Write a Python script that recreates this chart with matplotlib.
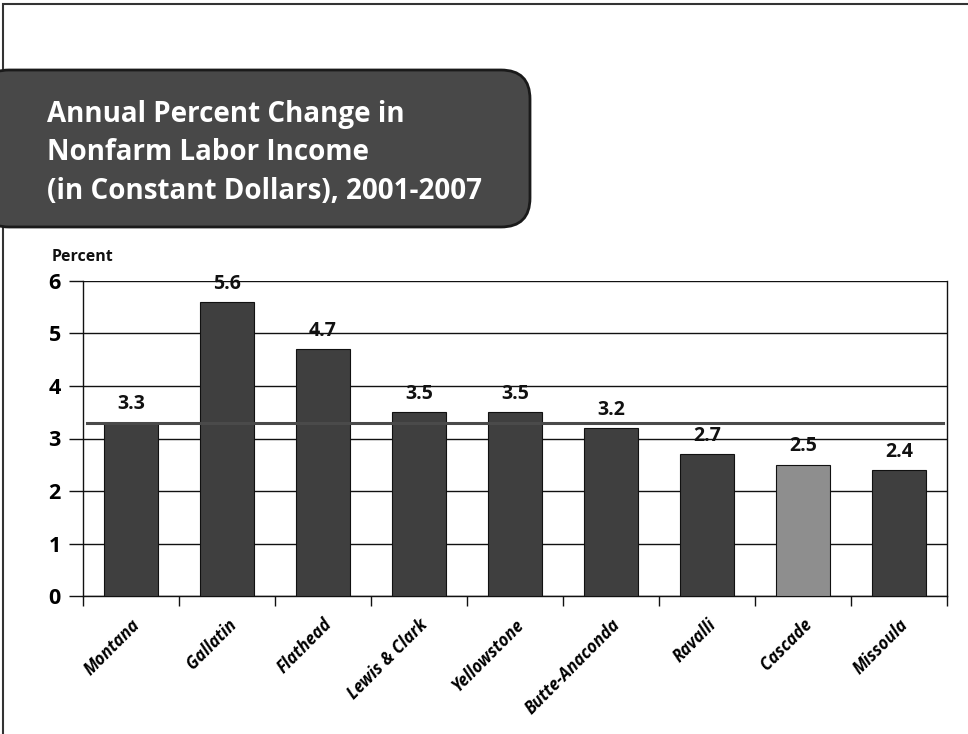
import matplotlib.pyplot as plt
from matplotlib.patches import FancyBboxPatch, Rectangle

counties = ["Montana", "Gallatin", "Flathead", "Lewis & Clark", "Yellowstone",
            "Butte-Anaconda", "Ravalli", "Cascade", "Missoula"]
pct_change = [3.3, 5.6, 4.7, 3.5, 3.5, 3.2, 2.7, 2.5, 2.4]
bar_colors = ["#3f3f3f", "#3f3f3f", "#3f3f3f", "#3f3f3f", "#3f3f3f",
              "#3f3f3f", "#3f3f3f", "#8e8e8e", "#3f3f3f"]
state_avg = 3.3
y_ticks = [0, 1, 2, 3, 4, 5, 6]

title_lines = "Annual Percent Change in\nNonfarm Labor Income\n(in Constant Dollars), 2001-2007"

plt.rcParams["font.family"] = ["Open Sans", "DejaVu Sans"]

W, H = 968, 734
fig = plt.figure(figsize=(W / 100, H / 100), dpi=100)

# slide frame
fig.add_artist(Rectangle((3 / W, -0.01), 1.2, 1 - 4 / H + 0.01, transform=fig.transFigure,
                         fill=False, edgecolor="#333333", linewidth=1.5))

# title box
box = FancyBboxPatch((-20 / W, 1 - 227 / H), 550 / W, 157 / H,
                     boxstyle="round,pad=0,rounding_size=0.03",
                     transform=fig.transFigure, facecolor="#484848",
                     edgecolor="#1a1a1a", linewidth=2, mutation_aspect=W / H)
fig.add_artist(box)
fig.text(47 / W, 1 - 153 / H, title_lines, color="white", fontsize=20,
         fontweight="bold", va="center", ha="left", linespacing=1.45)

ax = fig.add_axes([83 / W, 1 - 596 / H, 864 / W, 315 / H])
x = list(range(len(counties)))
ax.bar(x, pct_change, width=0.56, color=bar_colors, edgecolor="#111111",
       linewidth=0.8, zorder=3)
ax.axhline(state_avg, xmin=0.005, xmax=0.995, color="#4a4a4a", linewidth=2.2, zorder=4)

for xi, v in zip(x, pct_change):
    ax.annotate(f"{v:.1f}", (xi, v), xytext=(0, 6), textcoords="offset points",
                ha="center", va="bottom", fontsize=14, fontweight="bold", color="#111111")

ax.set_xlim(-0.5, len(counties) - 0.5)
ax.set_ylim(0, 6)
ax.set_yticks(y_ticks)
ax.set_yticklabels([str(t) for t in y_ticks], fontsize=15.5, fontweight="bold")
ax.yaxis.grid(True, color="#111111", linewidth=1.0, zorder=0)
ax.set_axisbelow(True)

ax.set_xticks([i - 0.5 for i in range(len(counties) + 1)])
ax.set_xticklabels([])
ax.set_xticks(x, minor=True)
ax.set_xticklabels(counties, minor=True, rotation=45, ha="right", rotation_mode="anchor",
                   fontsize=12, fontweight="bold", fontstyle="italic")
ax.tick_params(axis="x", which="minor", length=0, pad=14)
ax.tick_params(axis="x", which="major", length=7, width=1, color="#111111")
ax.tick_params(axis="y", length=10, width=1, color="#111111", pad=6)

for side in ["left", "right", "bottom"]:
    ax.spines[side].set_color("#111111")
    ax.spines[side].set_linewidth(1.0)
ax.spines["top"].set_visible(False)

fig.text(52 / W, 1 - 257 / H, "Percent", fontsize=11.5, fontweight="bold",
         va="center", ha="left", color="#111111")

fig.savefig("out.png", dpi=100)
